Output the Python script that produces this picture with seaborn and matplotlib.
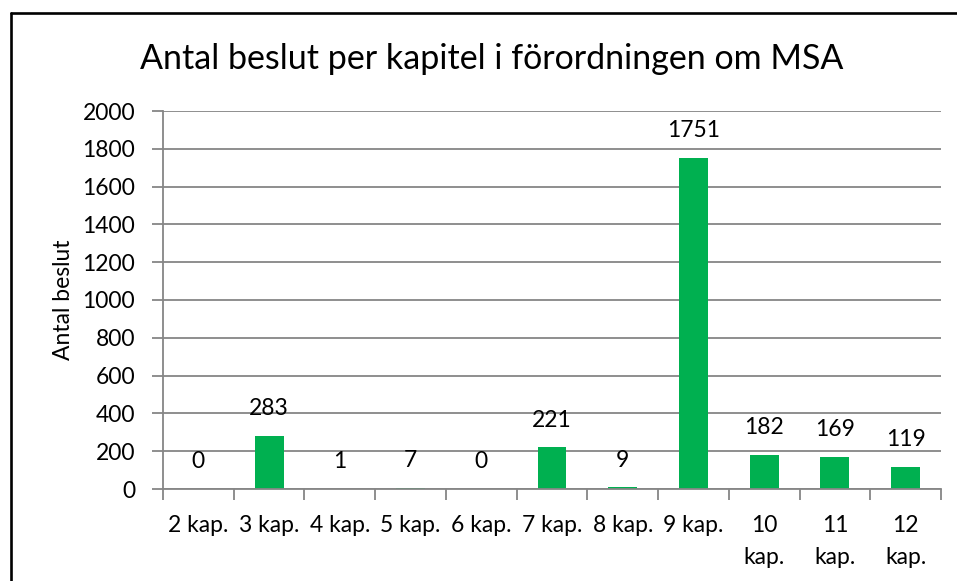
import matplotlib
matplotlib.use("Agg")
import matplotlib.pyplot as plt
import seaborn as sns
import pandas as pd
import numpy as np
from matplotlib.lines import Line2D

categories = ["2 kap.", "3 kap.", "4 kap.", "5 kap.", "6 kap.", "7 kap.",
              "8 kap.", "9 kap.", "10 kap.", "11 kap.", "12 kap."]
tick_labels = ["2 kap.", "3 kap.", "4 kap.", "5 kap.", "6 kap.", "7 kap.",
               "8 kap.", "9 kap.", "10\nkap.", "11\nkap.", "12\nkap."]
values = [0, 283, 1, 7, 0, 221, 9, 1751, 182, 169, 119]
yticks = [0, 200, 400, 600, 800, 1000, 1200, 1400, 1600, 1800, 2000]

sns.set_theme(style="white")
plt.rcParams['font.family'] = ['Lato', 'DejaVu Sans']

df = pd.DataFrame({"kapitel": categories, "antal": values})

W, H = 957, 581
fig = plt.figure(figsize=(W / 100, H / 100), dpi=100)
ax = fig.add_axes([163 / W, 1 - 489 / H, (941 - 163) / W, (489 - 111) / H])

sns.barplot(data=df, x="kapitel", y="antal", color="#00B050", width=0.41,
            saturation=1, ax=ax, edgecolor="none")

FS = 16.5
ax.set_xlim(-0.5, len(categories) - 0.5)
ax.set_ylim(0, 2000)
ax.set_yticks(yticks)
ax.set_yticklabels([str(t) for t in yticks], fontsize=FS, color="black")
ax.yaxis.grid(True, color="#868686", linewidth=1.3)
ax.set_axisbelow(True)

ax.set_xticks(range(len(categories)))
ax.set_xticklabels(tick_labels, fontsize=FS, color="black", linespacing=1.6)
ax.set_xticks(np.arange(-0.5, len(categories), 1.0), minor=True)
ax.tick_params(axis="x", which="major", length=0, pad=19)
ax.tick_params(axis="x", which="minor", length=8, width=1.3, color="#868686", bottom=True)
ax.tick_params(axis="y", which="major", length=8, width=1.3, color="#868686", left=True, pad=12)

for s in ["top", "right"]:
    ax.spines[s].set_visible(False)
for s in ["left", "bottom"]:
    ax.spines[s].set_color("#868686")
    ax.spines[s].set_linewidth(1.3)

ax.set_xlabel("")
ax.set_ylabel("Antal beslut", fontsize=FS, color="black", labelpad=6)

for i, v in enumerate(values):
    ax.annotate(str(v), xy=(i, v), xytext=(0, 19.5), textcoords="offset points",
                ha="center", va="center", fontsize=FS, color="black")

fig.text(492 / W, 1 - 59 / H, "Antal beslut per kapitel i förordningen om MSA",
         ha="center", va="center", fontsize=24.5, color="black")

# outer frame (only top and left visible in reference)
fig.add_artist(Line2D([11 / W, 11 / W], [0, 1 - 13 / H], transform=fig.transFigure,
                      color="black", linewidth=1.9))
fig.add_artist(Line2D([11 / W, 1], [1 - 13 / H, 1 - 13 / H], transform=fig.transFigure,
                      color="black", linewidth=1.9))

fig.savefig("out.png", dpi=100)
